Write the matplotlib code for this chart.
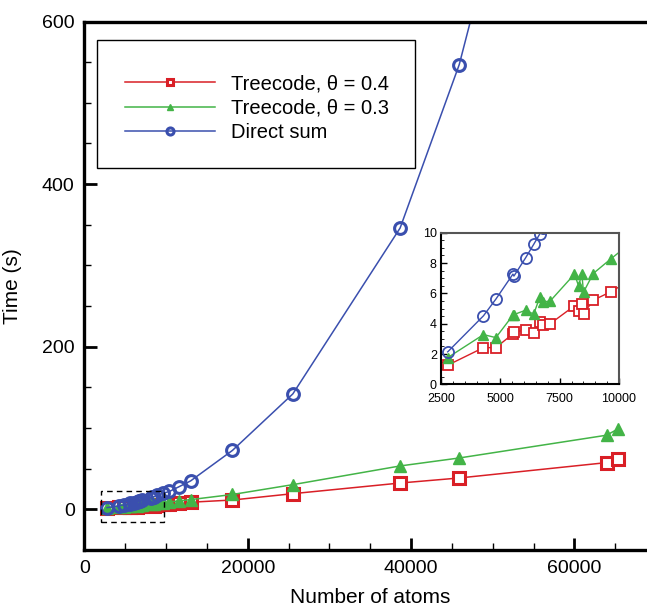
import matplotlib
matplotlib.use("Agg")
import matplotlib.pyplot as plt
from matplotlib.patches import Rectangle
from matplotlib.ticker import MultipleLocator

plt.rcParams['font.family'] = ['Liberation Sans', 'DejaVu Sans']

# number of atoms (shared by all three runs)
atoms = [2782, 4290, 4812, 5531, 5573, 6067, 6405, 6659, 6800, 7110, 8125, 8295,
         8435, 8506, 8915, 9676, 10400, 11620, 13008, 18130, 25525, 38660, 45900,
         63940, 65280]

# timings (s)
tree_04 = [1.26, 2.42, 2.42, 3.33, 3.46, 3.57, 3.39, 4.14, 3.94, 4.01, 5.18, 4.85,
           5.29, 4.65, 5.55, 6.12, 6.8, 7.6, 8.8, 11.5, 19.3, 32.4, 38.6, 57.5, 61.6]
tree_03 = [1.76, 3.28, 3.08, 4.56, 4.60, 4.89, 4.63, 5.73, 5.42, 5.51, 7.27, 6.50,
           7.27, 6.08, 7.31, 8.3, 9.2, 10.4, 12.0, 18.3, 30.4, 53.4, 63.2, 91.2, 98.6]
direct = [2.14, 4.52, 5.62, 7.27, 7.14, 8.35, 9.23, 9.91, 10.3, 11.2, 14.4, 14.95,
          15.4, 15.7, 17.1, 19.9, 22.0, 28.0, 35.0, 72.5, 142.0, 346.0, 547.0,
          1250.0, 1330.0]

labels = ['Treecode, \u03b8 = 0.4', 'Treecode, \u03b8 = 0.3', 'Direct sum']

RED = '#d91f26'
GREEN = '#43b447'
BLUE = '#3a4fae'

fig = plt.figure(figsize=(6.47, 6.11), dpi=100)
ax = fig.add_axes([0.1304, 0.0998, 0.8836, 0.865])

ax.plot(atoms, tree_04, '-s', color=RED, lw=1.1, ms=8, mfc='white', mec=RED, mew=2.2,
        label=labels[0])
ax.plot(atoms, tree_03, '-^', color=GREEN, lw=1.1, ms=8, mfc=GREEN, mec=GREEN,
        label=labels[1])
ax.plot(atoms, direct, '-o', color=BLUE, lw=1.1, ms=8.5, mfc='none', mec=BLUE, mew=2.2,
        label=labels[2])

# zoom region marker
ax.add_patch(Rectangle((2000, -16), 7800, 38.5, fill=False, ls=(0, (4, 3)), lw=1.0,
                       color='black', zorder=5))

ax.set_xlim(0, 70000)
ax.set_ylim(-50, 600)
ax.xaxis.set_major_locator(MultipleLocator(20000))
ax.xaxis.set_minor_locator(MultipleLocator(5000))
ax.yaxis.set_major_locator(MultipleLocator(200))
ax.yaxis.set_minor_locator(MultipleLocator(50))
ax.tick_params(which='both', direction='in', top=False, right=False, labelsize=14)
ax.tick_params(which='major', length=9, width=2.0, pad=7)
ax.tick_params(which='minor', length=5, width=1.0)
for s in ['left', 'bottom', 'top']:
    ax.spines[s].set_linewidth(2.4)
ax.spines['right'].set_visible(False)

ax.set_xlabel('Number of atoms', fontsize=15, labelpad=8)
ax.set_ylabel('Time (s)', fontsize=15, labelpad=14)

# legend box
ax.add_patch(Rectangle((0.022, 0.7228), 0.556, 0.2422, transform=ax.transAxes,
                       fill=False, lw=1.0, ec='black', zorder=6))
ax.legend(loc='center', bbox_to_anchor=(0.302, 0.836), frameon=False, fontsize=14.5,
          handlelength=4.5, handletextpad=0.8, labelspacing=0.27, markerscale=0.6)

# inset
ins = fig.add_axes([0.6816, 0.371, 0.2751, 0.2481])
ins.plot(atoms, tree_04, '-s', color=RED, lw=1.0, ms=7, mfc='white', mec=RED, mew=1.3)
ins.plot(atoms, tree_03, '-^', color=GREEN, lw=1.0, ms=7.5, mfc=GREEN, mec=GREEN)
ins.plot(atoms, direct, '-o', color=BLUE, lw=1.0, ms=8, mfc='none', mec=BLUE, mew=1.3)
ins.set_xlim(2500, 10000)
ins.set_ylim(0, 10)
ins.set_xticks([2500, 5000, 7500, 10000])
ins.xaxis.set_minor_locator(MultipleLocator(500))
ins.yaxis.set_major_locator(MultipleLocator(2))
ins.yaxis.set_minor_locator(MultipleLocator(0.5))
ins.tick_params(which='both', direction='in', labelsize=9)
ins.tick_params(axis='y', which='major', pad=3)
ins.tick_params(axis='x', which='major', pad=6)
ins.tick_params(which='major', length=4, width=1.0)
ins.tick_params(which='minor', length=2, width=0.6)
for s in ins.spines.values():
    s.set_linewidth(1.5)
ins.spines['top'].set_color('#555555')
ins.spines['right'].set_color('#555555')

fig.savefig('out.png', dpi=100)
